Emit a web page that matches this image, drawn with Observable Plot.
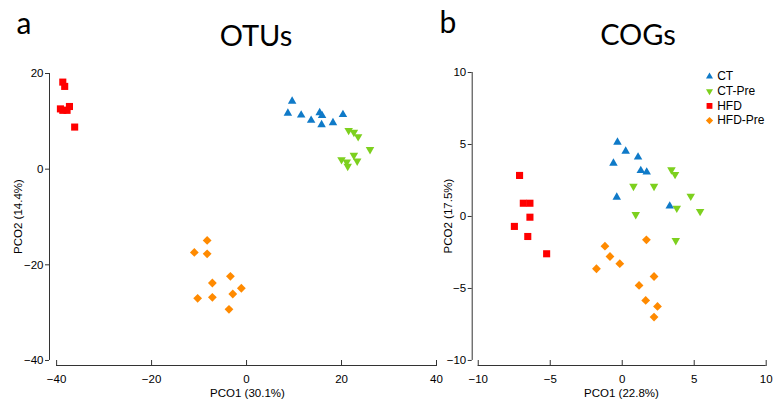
<!DOCTYPE html>
<html>
<head>
<meta charset="utf-8">
<script src="https://cdn.jsdelivr.net/npm/d3@7"></script>
<script src="https://cdn.jsdelivr.net/npm/@observablehq/plot@0.6"></script>
<style>
  body { margin: 0; background: #fff; }
  #wrap { position: relative; width: 773px; height: 406px; overflow: hidden; background: #fff; }
  #wrap svg { position: absolute; top: 0; font-family: 'Liberation Sans', Arial, sans-serif; }
</style>
</head>
<body>
<div id="wrap"></div>
<script>
// ---- categories & colours ----
const groups = ["CT", "CT-Pre", "HFD", "HFD-Pre"];
const colors = ["#0f7ac8", "#7dd01e", "#ff0000", "#ff8a00"];

// ---- panel a: OTUs ----
const otuCT_x = [9.6, 8.7, 11.5, 13.6, 15.4, 15.9, 15.8, 18.2, 20.3];
const otuCT_y = [14.2, 11.7, 11.3, 10.2, 11.8, 11.2, 9.3, 9.7, 11.4];
const otuCTPre_x = [21.5, 22.6, 23.5, 26.0, 22.6, 20.0, 21.1, 23.3, 21.3];
const otuCTPre_y = [8.1, 7.7, 6.8, 4.1, 2.9, 2.0, 1.5, 1.7, 0.6];
const otuHFD_x = [-38.7, -38.3, -39.2, -38.7, -37.3, -37.8, -36.2];
const otuHFD_y = [18.2, 17.3, 12.6, 12.3, 13.1, 12.3, 8.8];
const otuHFDPre_x = [-8.3, -11.0, -8.3, -3.4, -7.2, -2.9, -1.1, -10.3, -7.2, -3.7];
const otuHFDPre_y = [-14.9, -17.4, -17.7, -22.4, -23.8, -26.1, -24.9, -27.0, -26.8, -29.3];
const otuXTicks = [-40, -20, 0, 20, 40];
const otuYTicks = [-40, -20, 0, 20];

// ---- panel b: COGs ----
const cogCT_x = [-0.33, 0.24, 1.10, -0.61, 1.29, 1.70, -0.38, 3.30];
const cogCT_y = [5.16, 4.53, 4.12, 3.70, 3.19, 3.08, 1.34, 0.72];
const cogCTPre_x = [3.42, 3.67, 0.78, 2.21, 4.76, 3.79, 5.41, 0.94, 3.72];
const cogCTPre_y = [3.24, 2.92, 2.10, 2.10, 1.41, 0.58, 0.35, 0.14, -1.67];
const cogHFD_x = [-7.13, -6.87, -6.41, -6.41, -7.49, -6.56, -5.25];
const cogHFD_y = [2.85, 0.92, 0.92, -0.05, -0.69, -1.39, -2.59];
const cogHFDPre_x = [1.68, -1.20, -0.85, -0.17, -1.79, 2.21, 1.17, 1.63, 2.45, 2.21];
const cogHFDPre_y = [-1.62, -2.06, -2.78, -3.28, -3.63, -4.17, -4.79, -5.83, -6.25, -6.99];
const cogXTicks = [-10, -5, 0, 5, 10];
const cogYTicks = [-10, -5, 0, 5, 10];

// ---- texts ----
const otuLetter = "a", otuTitle = "OTUs", otuXLabel = "PCO1 (30.1%)", otuYLabel = "PCO2 (14.4%)";
const cogLetter = "b", cogTitle = "COGs", cogXLabel = "PCO1 (22.8%)", cogYLabel = "PCO2 (17.5%)";

// ---- symbols ----
const triUp = {draw(ctx, size) {
  const s = Math.sqrt(size) * 1.2, h = s * Math.sqrt(3) / 2;
  ctx.moveTo(0, -h * 2 / 3); ctx.lineTo(s / 2, h / 3); ctx.lineTo(-s / 2, h / 3); ctx.closePath();
}};
const triDown = {draw(ctx, size) {
  const s = Math.sqrt(size) * 1.2, h = s * Math.sqrt(3) / 2;
  ctx.moveTo(0, h * 2 / 3); ctx.lineTo(s / 2, -h / 3); ctx.lineTo(-s / 2, -h / 3); ctx.closePath();
}};
const diamond = {draw(ctx, size) {
  const r = Math.sqrt(size) * 0.62;
  ctx.moveTo(0, -r); ctx.lineTo(r, 0); ctx.lineTo(0, r); ctx.lineTo(-r, 0); ctx.closePath();
}};
const symbols = [triUp, triDown, "square", diamond];

const rowsOf = (xs, ys) => xs.map((x, i) => ({x, y: ys[i]}));
const tickFont = "Liberation Sans, Arial, sans-serif";
const titleFont = "Lato, Open Sans, sans-serif";
const HEIGHT = 406, MB = 41;

function panel(c) {
  // data units per pixel on y, for the short inward tick length (5px)
  const ky = (c.yDomain[1] - c.yDomain[0]) / (HEIGHT - MB - c.marginTop);
  const marks = [
    Plot.ruleX([c.xDomain[0]], {y1: c.yTicks[0], y2: c.yTicks[c.yTicks.length - 1], stroke: "#333"}),
    Plot.ruleY([c.yDomain[0]], {x1: c.xTicks[0], x2: c.xTicks[c.xTicks.length - 1], stroke: "#333"}),
    Plot.ruleX(c.xTicks, {x: d => d, y1: c.yDomain[0] - 1 * ky, y2: c.yDomain[0] + 5 * ky, stroke: "#333"}),
    Plot.axisX({ticks: c.xTicks, tickSize: 0, tickPadding: 9, label: null,
      fontFamily: tickFont, fontSize: 11.5}),
    Plot.axisY({ticks: c.yTicks, tickSize: 4, tickPadding: 2, label: null, stroke: "#333",
      fontFamily: tickFont, fontSize: 11.5}),
    ...c.series.map((s, i) => Plot.dot(s, {x: "x", y: "y", symbol: symbols[i], fill: colors[i], r: 4})),
    Plot.text([c.letter], {x: null, y: null, text: d => d, frameAnchor: "top-left", dx: c.letterDx, dy: -40,
      textAnchor: "start", lineAnchor: "bottom", fontSize: 30, fontFamily: titleFont, fill: "#000"}),
    Plot.text([c.title], {x: null, y: null, text: d => d, frameAnchor: "top", dx: c.titleDx, dy: -28,
      textAnchor: "middle", lineAnchor: "bottom", fontSize: 29, fontFamily: titleFont, fill: "#000"}),
    Plot.text([c.xLabel], {x: null, y: null, text: d => d, frameAnchor: "bottom", dx: c.xLabelDx, dy: 31,
      textAnchor: "middle", lineAnchor: "bottom", fontSize: 11.5, fontFamily: tickFont, fill: "#000"}),
    Plot.text([c.yLabel], {x: null, y: null, text: d => d, frameAnchor: "left", dx: c.yLabelDx, dy: -3,
      rotate: -90, textAnchor: "middle", lineAnchor: "middle", fontSize: 11.5, fontFamily: tickFont, fill: "#000"})
  ];
  if (c.legend) {
    groups.forEach((g, i) => {
      marks.push(Plot.dot([g], {x: null, y: null, frameAnchor: "top-right", dx: -56.7, dy: 4 + i * 14.7,
        symbol: symbols[i], fill: colors[i], r: 3.3}));
      marks.push(Plot.text([g], {x: null, y: null, text: d => d, frameAnchor: "top-right", dx: -49, dy: 4 + i * 14.7,
        textAnchor: "start", lineAnchor: "middle", fontSize: 12, fontFamily: tickFont, fill: "#000"}));
    });
  }
  const svg = Plot.plot({
    width: c.width, height: HEIGHT,
    marginTop: c.marginTop, marginBottom: MB, marginLeft: c.marginLeft, marginRight: c.marginRight,
    x: {domain: c.xDomain}, y: {domain: c.yDomain},
    style: {fontFamily: tickFont, fontSize: "11.5px", background: "transparent", overflow: "visible", color: "#000"},
    marks
  });
  svg.style.left = c.left + "px";
  return svg;
}

const wrap = document.getElementById("wrap");
wrap.appendChild(panel({
  left: 0, width: 440, marginLeft: 49, marginRight: 4, marginTop: 73,
  xDomain: [-41.5, 40], yDomain: [-41.05, 20], xTicks: otuXTicks, yTicks: otuYTicks,
  series: [rowsOf(otuCT_x, otuCT_y), rowsOf(otuCTPre_x, otuCTPre_y), rowsOf(otuHFD_x, otuHFD_y), rowsOf(otuHFDPre_x, otuHFDPre_y)],
  letter: otuLetter, title: otuTitle, xLabel: otuXLabel, yLabel: otuYLabel,
  letterDx: -33, titleDx: 13, xLabelDx: 4.5, yLabelDx: -31, legend: false
}));
wrap.appendChild(panel({
  left: 440, width: 333, marginLeft: 31.7, marginRight: 7.3, marginTop: 72,
  xDomain: [-10.42, 10], yDomain: [-10.35, 10], xTicks: cogXTicks, yTicks: cogYTicks,
  series: [rowsOf(cogCT_x, cogCT_y), rowsOf(cogCTPre_x, cogCTPre_y), rowsOf(cogHFD_x, cogHFD_y), rowsOf(cogHFDPre_x, cogHFDPre_y)],
  letter: cogLetter, title: cogTitle, xLabel: cogXLabel, yLabel: cogYLabel,
  letterDx: -32.7, titleDx: 18.8, xLabelDx: 2.3, yLabelDx: -23.7, legend: true
}));
</script>
</body>
</html>
